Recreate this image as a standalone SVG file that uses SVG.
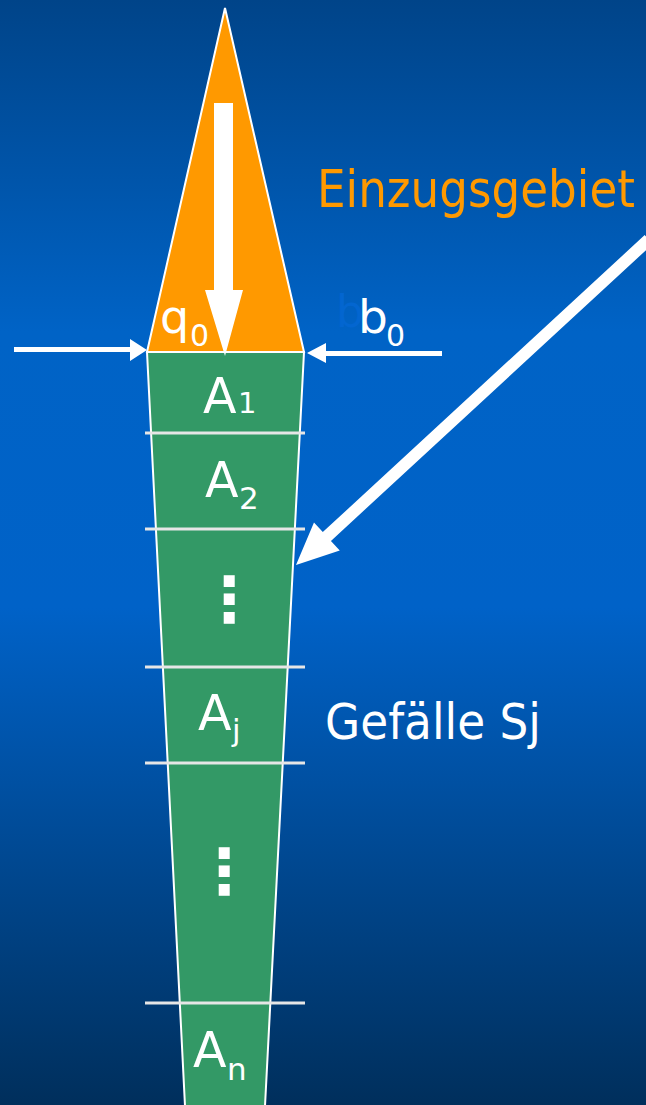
<svg xmlns="http://www.w3.org/2000/svg" width="646" height="1105" viewBox="0 0 646 1105">
<defs>
<linearGradient id="bg" x1="0" y1="0" x2="0" y2="1">
<stop offset="0" stop-color="#004489"/>
<stop offset="0.3" stop-color="#0063c6"/>
<stop offset="0.55" stop-color="#0062c8"/>
<stop offset="1" stop-color="#002f5c"/>
</linearGradient>
<style>
.t{font-family:"DejaVu Sans","Liberation Sans",sans-serif;fill:#fff}
.sec{fill:#339966;stroke:#fff;stroke-width:2}
.div{stroke:#e6e6e6;stroke-width:3}
.arr{fill:#fff}
</style>
</defs>
<rect width="646" height="1105" fill="url(#bg)"/>
<g id="catchment">
<polygon points="225,8 304,352 147,352" fill="#ff9900" stroke="#fff" stroke-width="2"/>
</g>
<g id="river">
<polygon class="sec" points="147,352 304,352 265,1106 185,1106"/>
</g>
<g id="dividers">
<line class="div" x1="145" y1="433" x2="305" y2="433"/>
<line class="div" x1="145" y1="529" x2="305" y2="529"/>
<line class="div" x1="145" y1="667" x2="305" y2="667"/>
<line class="div" x1="145" y1="763" x2="305" y2="763"/>
<line class="div" x1="145" y1="1003" x2="305" y2="1003"/>
</g>
<g id="connectors">
<polygon class="arr" points="214,103 233,103 233,290 243,290 225,356 205,290 214,290"/>
<polygon class="arr" points="14,347 130,347 130,339 147,350 130,361 130,352 14,352"/>
<polygon class="arr" points="442,351 326,351 326,343 307,353 326,363 326,356 442,356"/>
<g transform="translate(296,565) rotate(-42.7)">
<polygon class="arr" points="0,0 42,-19 42,-6 480,-6 480,6 42,6 42,19"/>
</g>
</g>
<g id="labels">
<text class="t" x="317" y="207" font-size="52" textLength="318" lengthAdjust="spacingAndGlyphs" style="fill:#ff9900">Einzugsgebiet</text>
<text class="t" x="325" y="739" font-size="50" textLength="216" lengthAdjust="spacingAndGlyphs">Gefälle Sj</text>
<text class="t" x="160" y="333" font-size="46">q</text>
<text class="t" x="190" y="346" font-size="30">0</text>
<text class="t" x="336" y="327" font-size="44" style="fill:#0366d0">b</text>
<text class="t" x="358" y="333" font-size="47">b</text>
<text class="t" x="386" y="346" font-size="30">0</text>
<text class="t" x="203" y="413" font-size="49">A</text>
<text class="t" x="238" y="413" font-size="29">1</text>
<text class="t" x="205" y="497" font-size="49">A</text>
<text class="t" x="239" y="509" font-size="31">2</text>
<text class="t" x="198" y="730" font-size="49">A</text>
<text class="t" x="232" y="741" font-size="31">j</text>
<text class="t" x="193" y="1067" font-size="49">A</text>
<text class="t" x="227" y="1080" font-size="31">n</text>
<text class="t" x="198" y="621" font-size="62" font-weight="bold">⋮</text>
<text class="t" x="193" y="893" font-size="62" font-weight="bold">⋮</text>
</g>
</svg>
